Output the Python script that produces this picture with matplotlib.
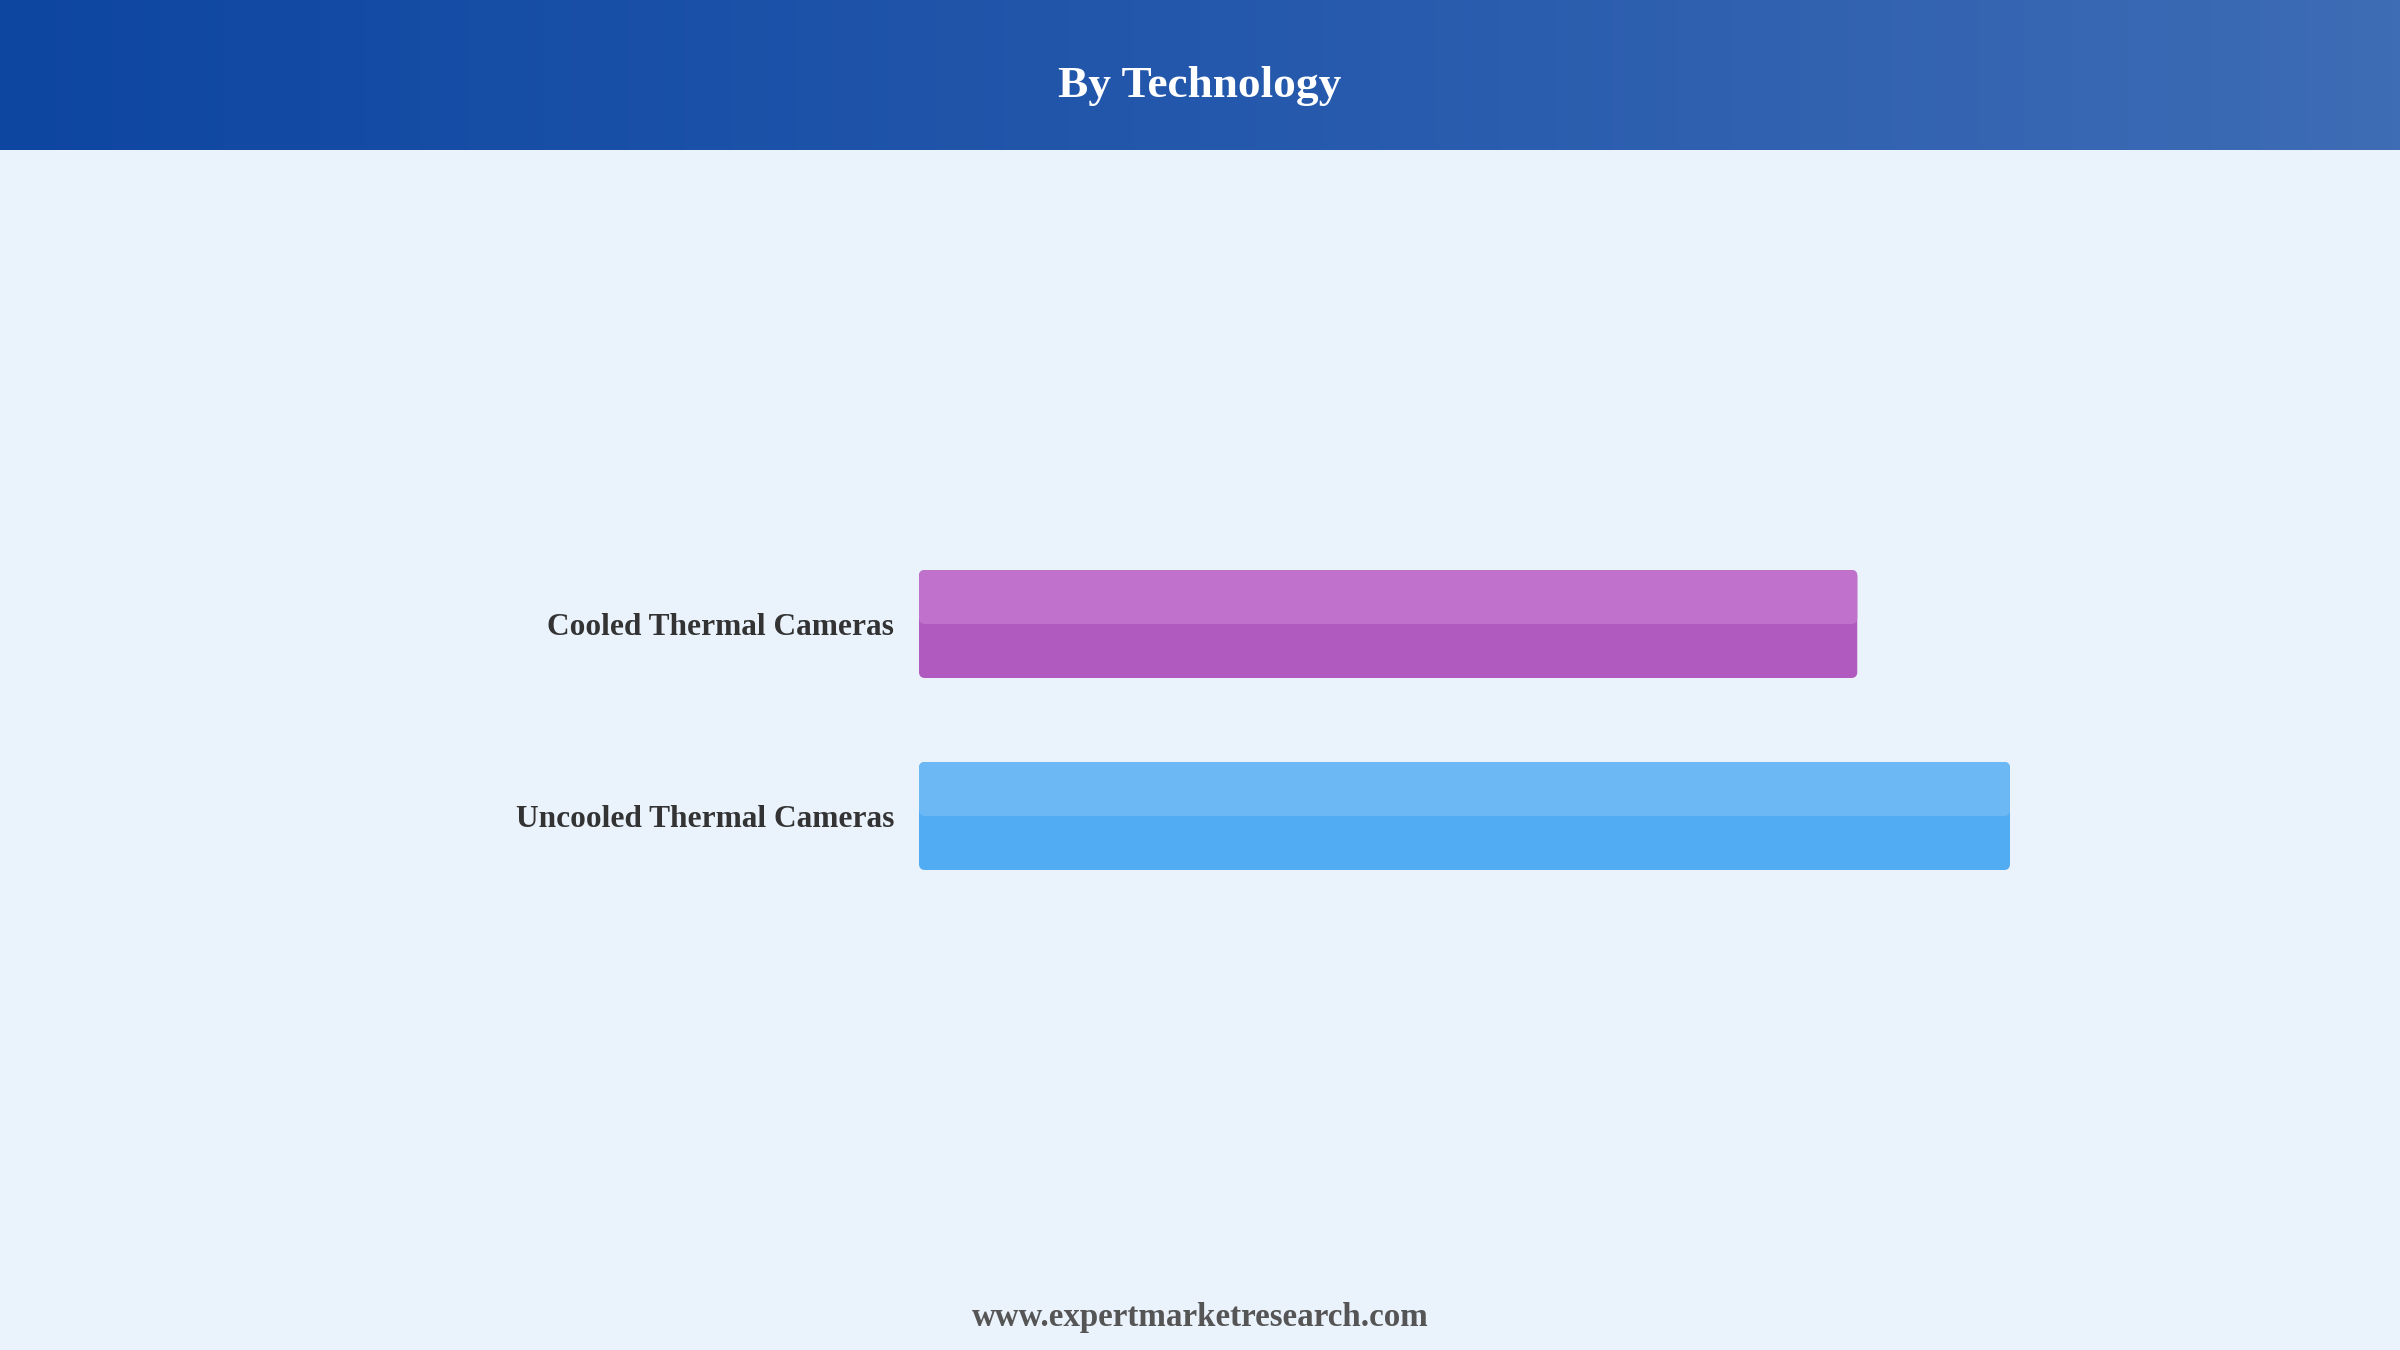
# Market share by technology - horizontal bars with a gradient banner

import numpy as np
import matplotlib
matplotlib.use("Agg")
import matplotlib.pyplot as plt
from matplotlib.patches import FancyBboxPatch
from matplotlib.colors import LinearSegmentedColormap

categories = ["Cooled Thermal Cameras", "Uncooled Thermal Cameras"]
values = [43.0, 50.0]
top_colors = ["#BF71CB", "#6CB8F5"]
bottom_colors = ["#B05AC0", "#52ACF3"]
title = "By Technology"
footer = "www.expertmarketresearch.com"

W, H, DPI = 2400, 1350, 200
fig = plt.figure(figsize=(W / DPI, H / DPI), dpi=DPI)
fig.patch.set_facecolor("#EAF2FC")
serif = ["Liberation Serif", "DejaVu Serif"]

# header banner
hax = fig.add_axes([0, 1 - 150 / H, 1, 150 / H])
cmap = LinearSegmentedColormap.from_list("hdr", ["#0D46A1", "#2458AC", "#3E6CB5"])
hax.imshow(np.linspace(0, 1, 256).reshape(1, -1), aspect="auto", cmap=cmap,
           extent=[0, 1, 0, 1])
hax.set_axis_off()
fig.text(0.5, 1 - 97 / H, title, ha="center", va="baseline", color="white",
         fontsize=16.3, fontweight="bold", family=serif)

# bars
x0, x1 = 919, 2010
y_top, y_bot = 150, 1290
ax = fig.add_axes([x0 / W, 1 - y_bot / H, (x1 - x0) / W, (y_bot - y_top) / H])
ax.set_facecolor("none")
xmax = max(values)
ax.set_xlim(0, xmax)
px_per_y = 192.0
half = (y_bot - y_top) / 2 / px_per_y
ax.set_ylim(0.5 + half, 0.5 - half)

px_per_x = (x1 - x0) / xmax
aspect = px_per_x / px_per_y
rad = 6 / px_per_x
bh = 108 / px_per_y
ypos = np.arange(len(categories))
for i, v in enumerate(values):
    y = ypos[i] - bh / 2
    ax.add_patch(FancyBboxPatch((0, y), v, bh,
                                boxstyle=f"round,pad=0,rounding_size={rad}",
                                mutation_aspect=aspect, fc=bottom_colors[i], ec="none"))
    ax.add_patch(FancyBboxPatch((0, y), v, bh / 2,
                                boxstyle=f"round,pad=0,rounding_size={rad}",
                                mutation_aspect=aspect, fc=top_colors[i], ec="none"))

ax.set_yticks(ypos)
ax.set_yticklabels(categories, fontsize=11.3, fontweight="bold",
                   color="#333333", family=serif)
ax.tick_params(axis="y", length=0, pad=9)
ax.set_xticks([])
for s in ax.spines.values():
    s.set_visible(False)

fig.text(0.5, 1 - 1326 / H, footer, ha="center", va="baseline", color="#555555",
         fontsize=11.9, fontweight="bold", family=serif)

fig.savefig("out.png", dpi=DPI, facecolor=fig.get_facecolor())
